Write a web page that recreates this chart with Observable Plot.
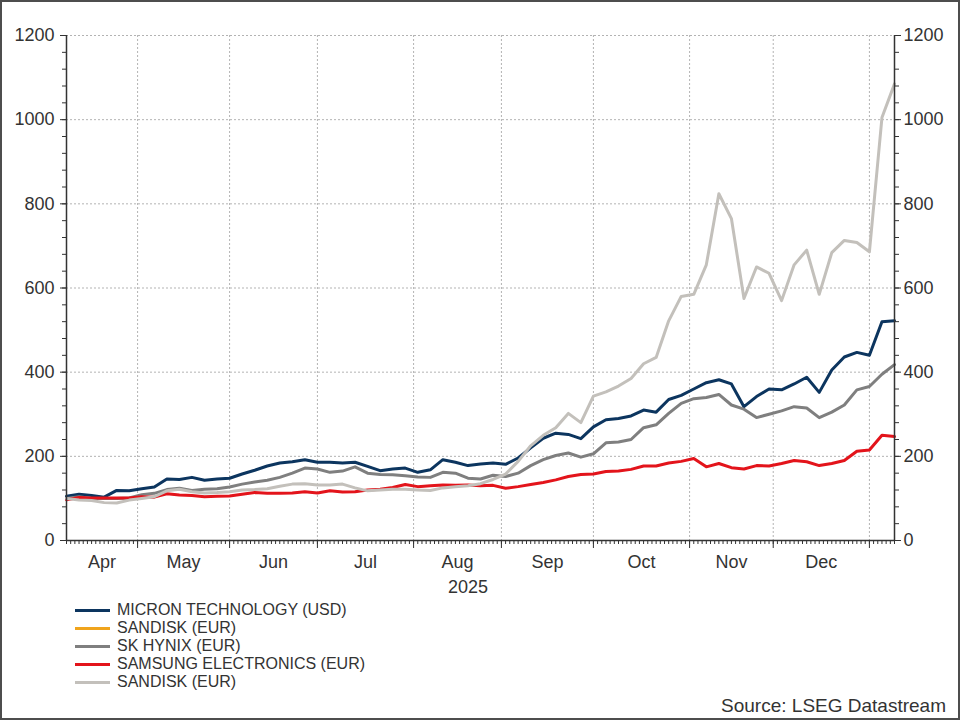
<!DOCTYPE html>
<html>
<head>
<meta charset="utf-8">
<script src="https://cdn.jsdelivr.net/npm/d3@7"></script>
<script src="https://cdn.jsdelivr.net/npm/@observablehq/plot@0.6"></script>
<style>
  html, body { margin: 0; padding: 0; background: #fff; }
  #wrap { position: relative; width: 960px; height: 720px; overflow: hidden;
          font-family: "Liberation Sans", Arial, sans-serif; color: #333; background: #fff; }
  #chart { position: absolute; left: 0; top: 0; }
  #chart svg { display: block; }
  #frame { position: absolute; left: 0; top: 0; width: 960px; height: 720px; box-sizing: border-box;
           border: 2px solid #4d4d4d; pointer-events: none; }
  #legend { position: absolute; left: 75px; top: 601px; font-size: 16px; line-height: 18px; }
  .row { display: flex; align-items: center; height: 18px; white-space: nowrap; }
  .sw { width: 35px; height: 3px; margin-right: 7px; flex: none; }
  #source { position: absolute; right: 14px; top: 696px; font-size: 19px; line-height: 20px; }
</style>
</head>
<body>
<div id="wrap">
  <div id="chart"></div>
  <div id="legend"></div>
  <div id="source">Source: LSEG Datastream</div>
  <div id="frame"></div>
</div>
<script>
// ---- Data (rebased to 100, one reading every 3rd trading session from 8 Apr 2025) ----
const seriesNames  = ["MICRON TECHNOLOGY (USD)", "SANDISK (EUR)", "SK HYNIX (EUR)", "SAMSUNG ELECTRONICS (EUR)", "SANDISK (EUR)"];
const seriesColors = ["#0c355f", "#f0a41c", "#7f7f7f", "#e3141b", "#c3c0bb"];
const monthLabels  = ["Apr", "May", "Jun", "Jul", "Aug", "Sep", "Oct", "Nov", "Dec"];
const yearLabel    = "2025";
const yMajor = [0, 200, 400, 600, 800, 1000, 1200];
const yMinor = [0, 40, 80, 120, 160, 200, 240, 280, 320, 360, 400, 440, 480, 520, 560, 600, 640, 680, 720, 760, 800, 840, 880, 920, 960, 1000, 1040, 1080, 1120, 1160, 1200];

const micron = [105,110,107,103,119,118,123,127,146,145,
                150,143,146,148,158,167,177,184,187,192,
                186,186,184,186,176,166,170,172,162,168,
                192,186,178,182,184,181,196,220,243,255,
                252,242,270,287,290,296,310,305,335,345,
                360,375,382,372,318,342,360,358,372,388,
                352,405,436,447,440,520,522];
const skHynix = [100,104,100,100,100,101,109,112,121,124,
                 119,122,123,127,134,139,143,150,160,172,
                 170,162,165,175,160,157,156,154,151,150,
                 162,160,148,146,155,152,160,178,192,202,
                 208,198,206,232,234,240,268,275,302,326,
                 337,340,347,322,312,292,300,308,318,315,
                 292,305,322,358,366,395,418];
const samsung = [97,102,101,101,101,101,104,103,111,108,
                 107,104,105,106,110,114,112,112,113,116,
                 113,118,115,116,120,122,126,133,128,130,
                 132,131,132,130,131,124,128,133,138,144,
                 152,157,158,164,165,169,177,177,184,188,
                 195,175,183,173,170,178,177,183,190,187,
                 178,183,190,212,215,250,247];
const sandisk = [100,96,95,90,89,96,100,104,118,122,
                 116,113,114,116,120,121,123,129,134,135,
                 132,132,134,125,118,120,122,122,120,119,
                 125,128,130,135,145,158,188,225,250,268,
                 302,280,343,353,367,385,420,435,522,580,
                 585,655,824,765,575,650,635,570,655,690,
                 585,684,713,708,686,1005,1085];

// ---- Trading-session calendar (x axis is session-indexed) ----
const sessions = [];
for (let t = Date.UTC(2025, 3, 8); t <= Date.UTC(2026, 0, 9); t += 864e5) {
  const d = new Date(t), w = d.getUTCDay();
  if (w !== 0 && w !== 6) sessions.push(d);
}
const lastDay = sessions.length - 1;
const allDays = sessions.map((d, i) => i);
const monthStarts = [];
sessions.forEach((d, i) => { if (i > 0 && d.getUTCMonth() !== sessions[i - 1].getUTCMonth()) monthStarts.push(i); });
const bounds = [0, ...monthStarts];
const centers = monthLabels.map((m, k) => (bounds[k] + bounds[k + 1]) / 2);
const yearCenter = bounds[monthLabels.length] / 2;
const step = 3;

const toRows = vals => vals.map((v, i) => ({day: i * step, v}));
const series = [
  {vals: micron, color: seriesColors[0]},
  {vals: skHynix, color: seriesColors[2]},
  {vals: samsung, color: seriesColors[3]},
  {vals: sandisk, color: seriesColors[4]}
];

const axisColor = "#333";
const gridStyle = {stroke: "#b3b3b3", strokeOpacity: 1, strokeWidth: 1, strokeDasharray: "2,2"};
const plain = d => String(d);

const chart = Plot.plot({
  width: 960,
  height: 600,
  marginLeft: 66,
  marginRight: 66,
  marginTop: 35,
  marginBottom: 60,
  style: {fontFamily: '"Liberation Sans", Arial, sans-serif', fontSize: "18px", color: "#333", background: "transparent", overflow: "visible"},
  x: {domain: [0, lastDay], label: null},
  y: {domain: [0, 1200], label: null},
  marks: [
    Plot.gridY(yMajor.filter(v => v > 0), gridStyle),
    Plot.gridX(monthStarts, gridStyle),
    ...series.map(s => Plot.line(toRows(s.vals), {x: "day", y: "v", stroke: s.color, strokeWidth: 3, strokeLinejoin: "round", strokeLinecap: "round"})),
    Plot.ruleX([0, lastDay], {stroke: axisColor, strokeWidth: 1.5}),
    Plot.ruleY([0], {stroke: axisColor, strokeWidth: 1.5}),
    // y axes, both sides
    Plot.axisY(yMinor, {anchor: "left", tickSize: 4, fill: "none", stroke: axisColor, label: null}),
    Plot.axisY(yMajor, {anchor: "left", tickSize: 6, tickPadding: 6, fontSize: 18, stroke: axisColor, fill: "#333", label: null, tickFormat: plain}),
    Plot.axisY(yMinor, {anchor: "right", tickSize: 4, fill: "none", stroke: axisColor, label: null}),
    Plot.axisY(yMajor, {anchor: "right", tickSize: 6, tickPadding: 3, fontSize: 18, stroke: axisColor, fill: "#333", label: null, tickFormat: plain}),
    // x axis: daily minor ticks, month ticks, month names
    Plot.axisX(allDays, {tickSize: 4, fill: "none", stroke: axisColor, label: null}),
    Plot.axisX(monthStarts, {tickSize: 8, fill: "none", stroke: axisColor, label: null}),
    Plot.axisX(centers, {tickSize: 0, tickPadding: 15, fontSize: 18, fill: "#333", label: null,
                         tickFormat: d => monthLabels[centers.indexOf(d)]}),
    Plot.text([yearLabel], {x: () => yearCenter, text: d => d, frameAnchor: "bottom", dy: 40, lineAnchor: "top", fontSize: 18, fill: "#333"})
  ]
});
document.getElementById("chart").appendChild(chart);

// ---- Legend ----
const legend = document.getElementById("legend");
seriesNames.forEach((name, k) => {
  const row = document.createElement("div");
  row.className = "row";
  const sw = document.createElement("div");
  sw.className = "sw";
  sw.style.background = seriesColors[k];
  const label = document.createElement("span");
  label.textContent = name;
  row.appendChild(sw);
  row.appendChild(label);
  legend.appendChild(row);
});
</script>
</body>
</html>
